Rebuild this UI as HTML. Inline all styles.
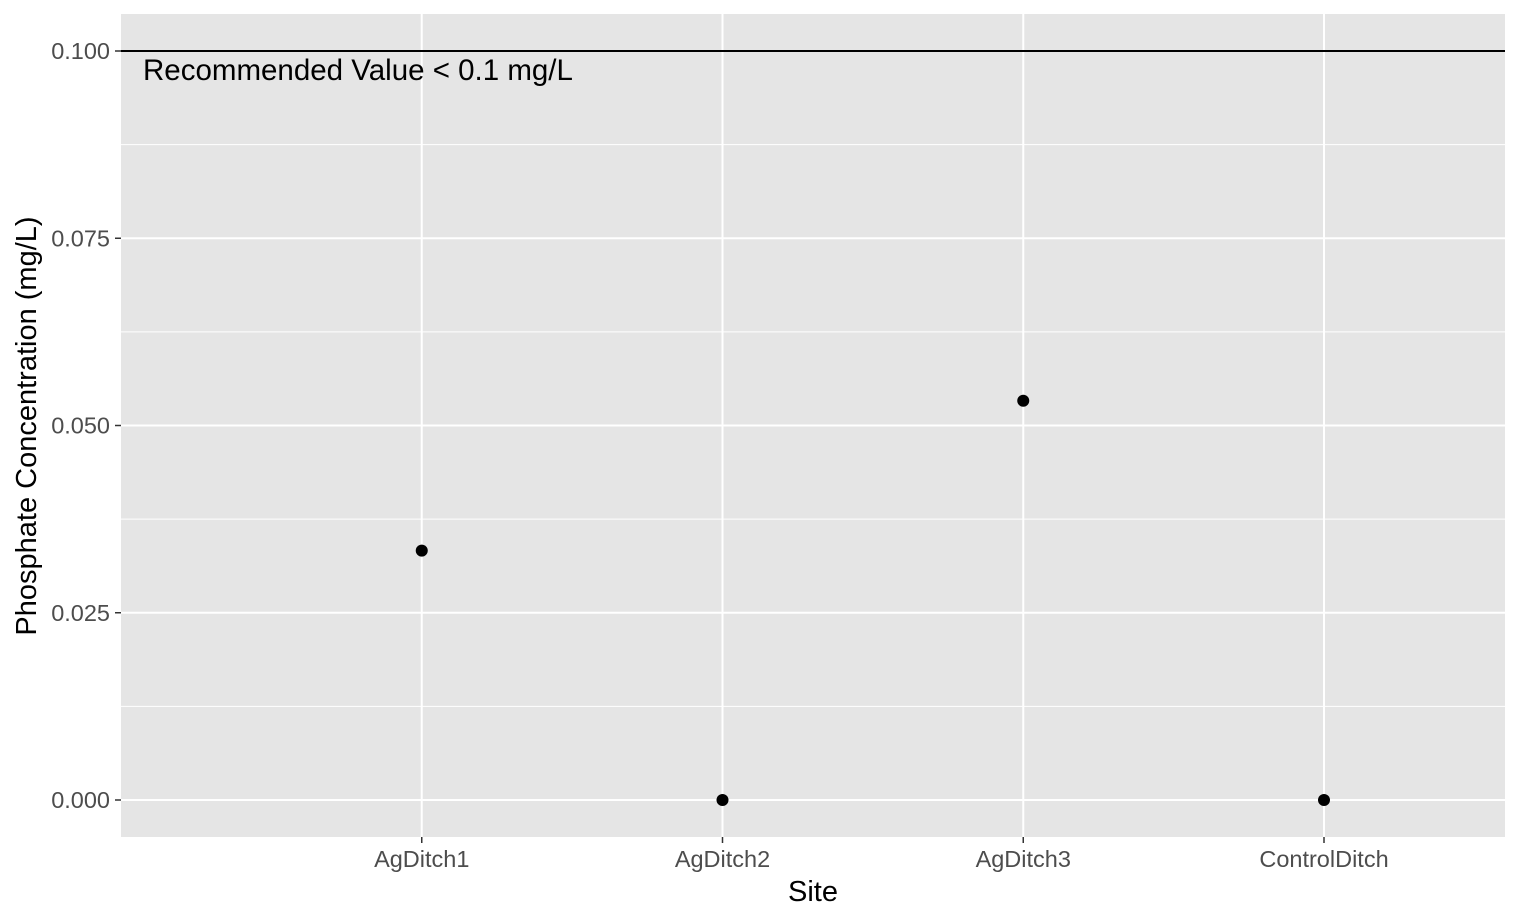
<!DOCTYPE html>
<html><head><meta charset="utf-8"><style>
html,body{margin:0;padding:0;background:#fff;}
svg{display:block;font-family:"Liberation Sans",Arial,sans-serif;}
</style></head><body>
<svg id="chart" width="1520" height="922"></svg>
<script>
const categories = ["AgDitch1","AgDitch2","AgDitch3","ControlDitch"];
const values = [0.0333, 0, 0.0533, 0];
const yTicks = [0, 0.025, 0.05, 0.075, 0.1];
const yTickLabels = ["0.000","0.025","0.050","0.075","0.100"];
const refValue = 0.1;

const NS = "http://www.w3.org/2000/svg";
const svg = document.getElementById("chart");
const L = 121, R = 1505, T = 14, B = 837;
const step = 300.75;
function xs(i){ return L + (i + 1) * step; }
function ys(v){ return 800 - v * 7490; }
function mk(tag, attrs, parent){
  const e = document.createElementNS(NS, tag);
  for (const k in attrs) e.setAttribute(k, attrs[k]);
  (parent || svg).appendChild(e);
  return e;
}
const panel = mk("rect",{x:L,y:T,width:R-L,height:B-T,fill:"#e5e5e5"});


for (let i = 0; i < yTicks.length - 1; i++) {
  const v = (yTicks[i] + yTicks[i+1]) / 2;
  const g = mk("line",{x1:L,x2:R,y1:ys(v),y2:ys(v),stroke:"#fff","stroke-width":1});
  
  
}
yTicks.forEach((v, i) => {
  const y = ys(v);
  const g = mk("line",{x1:L,x2:R,y1:y,y2:y,stroke:"#fff","stroke-width":2});
  
  
  const t = mk("line",{x1:L-6,x2:L,y1:y,y2:y,stroke:"#333","stroke-width":1.5});
  
  
  const tx = mk("text",{x:L-11,y:y+8,"text-anchor":"end","font-size":23.5,fill:"#4d4d4d"});
  tx.textContent = yTickLabels[i];
  
  
});
categories.forEach((c, i) => {
  const x = xs(i);
  const g = mk("line",{x1:x,x2:x,y1:T,y2:B,stroke:"#fff","stroke-width":2});
  
  
  const t = mk("line",{x1:x,x2:x,y1:B,y2:B+6,stroke:"#333","stroke-width":1.5});
  
  
  const tx = mk("text",{x:x,y:867,"text-anchor":"middle","font-size":23.5,fill:"#4d4d4d"});
  tx.textContent = c;
  
  
});
const rl = mk("line",{x1:L,x2:R,y1:ys(refValue),y2:ys(refValue),stroke:"#000","stroke-width":2});


const rt = mk("text",{x:143,y:80,"font-size":29.5,fill:"#000"});
rt.textContent = "Recommended Value < 0.1 mg/L";


values.forEach((v, i) => {
  const p = mk("circle",{cx:xs(i),cy:ys(v),r:6,fill:"#000"});
  
  
});
const xt = mk("text",{x:813,y:901,"text-anchor":"middle","font-size":29,fill:"#000"});
xt.textContent = "Site";


const yt = mk("text",{x:0,y:0,"text-anchor":"middle","font-size":29,fill:"#000",transform:"translate(36,426) rotate(-90)"});
yt.textContent = "Phosphate Concentration (mg/L)";


</script>
</body></html>
